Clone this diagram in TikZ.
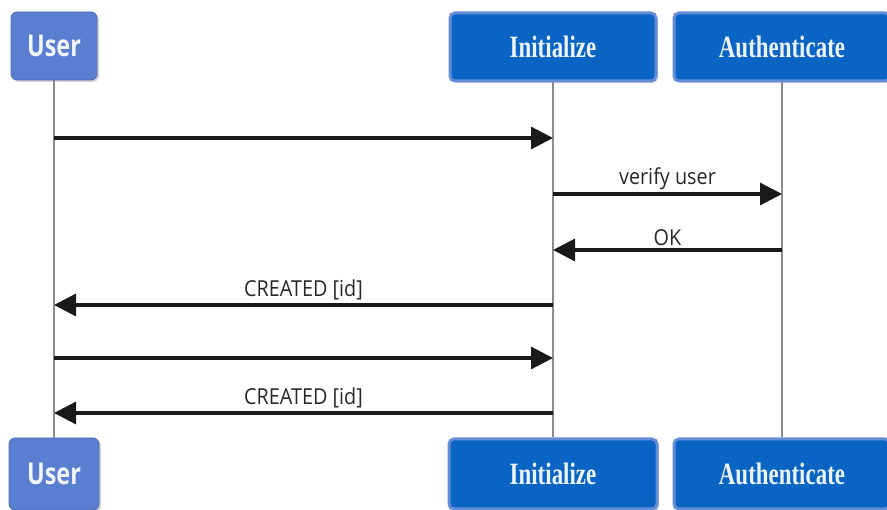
\documentclass[tikz,border=0pt]{standalone}
\usepackage{fontspec}
\setmainfont{Liberation Serif}
\newfontfamily\usrfont[FakeStretch=0.78]{Open Sans}
\newfontfamily\boxfont[FakeStretch=0.74]{Liberation Serif}
\newfontfamily\msgfont[FakeStretch=0.9]{Open Sans}
\usetikzlibrary{arrows.meta,shadows}
\definecolor{userblue}{RGB}{90,126,208}
\definecolor{boxblue}{RGB}{10,100,196}
\definecolor{boxedge}{RGB}{100,140,214}
\definecolor{lifegray}{RGB}{140,140,140}
\definecolor{arrowcol}{RGB}{25,25,25}
\definecolor{msgcol}{RGB}{40,40,40}
\tikzset{
  userbox/.style={fill=userblue, draw=userblue!85!black, line width=0.8pt, rounded corners=6pt,
    minimum width=86pt, minimum height=68pt, text=white!92!userblue, font=\usrfont\bfseries\fontsize{30}{30}\selectfont,
    drop shadow={shadow xshift=2pt, shadow yshift=-2pt, opacity=0.35}},
  procbox/.style={fill=boxblue, draw=boxedge, line width=3pt, rounded corners=5pt,
    minimum height=68pt, text=white!92!boxblue, font=\boxfont\bfseries\fontsize{31}{31}\selectfont,
    drop shadow={shadow xshift=2pt, shadow yshift=-2pt, opacity=0.35}},
  lifeline/.style={draw=lifegray, line width=2pt},
  msg/.style={draw=arrowcol, line width=3.2pt, -{Triangle[length=22pt,width=22pt]}},
  msglabel/.style={text=msgcol, font=\msgfont\fontsize{22}{22}\selectfont, inner sep=3pt},
}
\begin{document}
\begin{tikzpicture}[x=1pt,y=-1pt]
\useasboundingbox (0,0) rectangle (887,510);
\clip (0,0) rectangle (887,510);
\node[userbox] (ut) at (54,46) {User};
\node[procbox, minimum width=206pt] (it) at (553,47) {Initialize};
\node[procbox, minimum width=216pt] (at) at (782,47) {Authenticate};
\node[userbox, minimum width=90pt, minimum height=72pt] (ub) at (54,474) {User};
\node[procbox, minimum width=208pt, minimum height=70pt] (ib) at (553,474) {Initialize};
\node[procbox, minimum width=216pt, minimum height=70pt] (ab) at (782,474) {Authenticate};
% lifelines
\path[lifeline] (ut.south) -- (ub.north);
\path[lifeline] (it.south) -- (ib.north);
\path[lifeline] (at.south) -- (ab.north);
% message end points on lifelines
\coordinate (u1) at (54,138); \coordinate (i1) at (553,138);
\coordinate (i2) at (553,194); \coordinate (a2) at (782,194);
\coordinate (a3) at (782,250); \coordinate (i3) at (553,250);
\coordinate (i4) at (553,305); \coordinate (u4) at (54,305);
\coordinate (u5) at (54,358); \coordinate (i5) at (553,358);
\coordinate (i6) at (553,413); \coordinate (u6) at (54,413);
\draw[msg] (u1) -- (i1);
\draw[msg] (i2) -- node[msglabel, above] {verify user} (a2);
\draw[msg] (a3) -- node[msglabel, above] {OK} (i3);
\draw[msg] (i4) -- node[msglabel, above] {CREATED [id]} (u4);
\draw[msg] (u5) -- (i5);
\draw[msg] (i6) -- node[msglabel, above] {CREATED [id]} (u6);
\end{tikzpicture}
\end{document}
